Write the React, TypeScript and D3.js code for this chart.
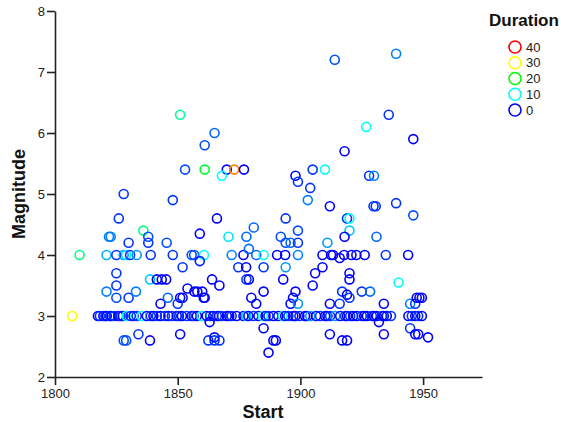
import React, { useEffect, useRef } from "react";
import * as d3 from "d3";

// scattered events (start year, magnitude, duration)
const start = [
  1828, 1826, 1836, 1822, 1822.7, 1838, 1830, 1838, 1845.5, 1848,
  1810, 1821, 1825, 1828, 1829, 1830.6, 1833.3, 1839, 1848, 1855.7, 1856.7, 1860.7, 1872, 1876.8, 1882, 1885, 1890.5, 1893.8, 1899, 1909, 1912.5, 1913.3, 1917.8, 1920.8, 1922.8, 1926.2, 1934.8, 1943.9,
  1825, 1825, 1821, 1825, 1830, 1833, 1838.7, 1841.5, 1843.5, 1845.3, 1843, 1846, 1807, 1828, 1829, 1834, 1838.7,
  1851, 1865, 1861, 1853, 1861, 1870, 1873, 1877, 1868, 1866, 1859, 1870.7, 1878, 1881, 1879, 1859, 1852, 1874.7, 1877.9, 1885, 1878, 1879, 1864, 1867, 1854, 1851, 1852, 1856.8, 1858, 1860, 1860.6, 1861, 1850, 1880, 1882, 1885, 1863, 1851, 1862.5, 1865, 1865, 1867, 1885, 1889, 1887,
  1926.8, 1918, 1905, 1910, 1898, 1899, 1904, 1903, 1912, 1894, 1919, 1920, 1920, 1899, 1892, 1918, 1894, 1896, 1899, 1911, 1916, 1894, 1909, 1893, 1906, 1920, 1920, 1905, 1898, 1897, 1896, 1899, 1917, 1919, 1920, 1925, 1928.4, 1912, 1916, 1890, 1912, 1917, 1919,
  1936, 1946, 1928, 1930, 1929.8, 1930.7, 1939, 1946, 1931, 1940, 1934, 1944.7, 1946.8, 1947.4, 1948.5, 1949.5, 1932, 1934, 1944.7, 1946.8, 1948, 1952, 1914, 1939,
];
const magnitude = [
  5.0, 4.6, 4.4, 4.3, 4.3, 4.3, 4.2, 4.2, 4.2, 4.9,
  4, 4, 4, 4, 4, 4, 4, 4, 4, 4, 4, 4, 4, 4, 4, 4, 4, 4, 4, 4, 4, 4, 4, 4, 4, 4, 4, 4,
  3.7, 3.5, 3.4, 3.3, 3.3, 3.4, 3.6, 3.6, 3.6, 3.6, 3.2, 3.3, 3.0, 2.6, 2.6, 2.7, 2.6,
  6.3, 6.0, 5.8, 5.4, 5.4, 5.4, 5.4, 5.4, 5.3, 4.6, 4.35, 4.3, 4.3, 4.45, 4.1, 3.9, 3.8, 3.8, 3.8, 3.8, 3.6, 3.6, 3.6, 3.5, 3.45, 3.3, 3.3, 3.4, 3.4, 3.4, 3.3, 3.3, 3.2, 3.3, 3.2, 3.4, 2.9, 2.7, 2.6, 2.6, 2.65, 2.6, 2.8, 2.6, 2.4,
  6.1, 5.7, 5.4, 5.4, 5.3, 5.2, 5.1, 4.9, 4.8, 4.6, 4.6, 4.6, 4.4, 4.4, 4.3, 4.3, 4.2, 4.2, 4.2, 4.2, 3.95, 3.8, 3.8, 3.6, 3.7, 3.7, 3.6, 3.5, 3.4, 3.3, 3.2, 3.2, 3.4, 3.35, 3.3, 3.4, 3.4, 3.2, 3.2, 2.6, 2.7, 2.6, 2.6,
  6.3, 5.9, 5.3, 5.3, 4.8, 4.8, 4.85, 4.65, 4.3, 3.55, 3.2, 3.2, 3.2, 3.3, 3.3, 3.3, 2.9, 2.7, 2.8, 2.7, 2.7, 2.65, 7.2, 7.3,
];
const duration = [
  2, 2, 15, 5, 5, 3, 2, 2, 3, 2,
  15, 7, 2, 6, 9, 2, 6, 2, 2, 3, 3, 10, 5, 0, 4, 10, 0, 0, 5, 0, 0, 0, 0, 0, 0, 0, 2, 0,
  2, 2, 5, 3, 2, 5, 8, 0, 0, 0, 0, 4, 30, 3, 3, 2, 0,
  14, 4, 3, 3, 18, 0, 35, 0, 10, 0, 0, 9, 4, 4, 4, 1, 2, 2, 0, 2, 2, 0, 0, 0, 0, 0, 0, 0, 0, 0, 0, 0, 2, 0, 0, 0, 0, 0, 2, 2, 0, 2, 0, 0, 0,
  10, 0, 2, 10, 0, 2, 2, 5, 0, 2, 2, 11, 8, 3, 3, 0, 3, 4, 2, 6, 0, 6, 0, 0, 0, 0, 0, 0, 0, 0, 0, 6, 2, 0, 2, 2, 4, 0, 2, 0, 0, 0, 0,
  2, 0, 2, 5, 2, 2, 2, 3, 4, 10, 0, 5, 2, 0, 0, 0, 0, 0, 2, 0, 0, 0, 3, 5,
];

// the crowded row of magnitude 3.0 events
const rowMagnitude = 3;
const rowStart = [
  1817.5, 1818.3, 1819.7, 1820.5, 1821.1, 1822.4, 1823, 1824.1, 1825.8, 1826.7,
  1827.6, 1829.2, 1830.9, 1832, 1833.3, 1835.3, 1837.4, 1839, 1840.1, 1841.5,
  1843, 1844.8, 1846.2, 1847.6, 1849.6, 1850.5, 1851.7, 1853.7, 1855.7, 1856.5,
  1857.8, 1859.8, 1861.8, 1863.2, 1864.5, 1865.9, 1866.8, 1868, 1870, 1871,
  1872, 1874, 1876.8, 1878, 1878.8, 1880.8, 1882.9, 1884.7, 1885.8, 1887,
  1889, 1891, 1892.8, 1893.8, 1895.1, 1897.1, 1898, 1899.6, 1901.9, 1902.8,
  1904, 1906.4, 1908, 1910.1, 1911, 1912.1, 1914.2, 1916.2, 1918.2, 1919,
  1920.3, 1921.5, 1923, 1925, 1926, 1927.1, 1929.1, 1930, 1931.1, 1933.2,
  1934, 1935.2, 1936.9, 1944, 1945.4, 1946.8, 1948, 1949.5,
];
const rowDuration = [
  0, 2, 0, 2, 0, 2, 0, 2, 0, 2,
  0, 10, 2, 0, 2, 10, 0, 2, 0, 2,
  0, 2, 0, 2, 0, 2, 0, 2, 0, 2,
  0, 10, 0, 2, 0, 2, 0, 2, 0, 0,
  2, 0, 0, 8, 0, 2, 0, 10, 0, 2,
  0, 0, 9, 0, 2, 0, 0, 2, 0, 0,
  6, 0, 2, 0, 0, 2, 6, 0, 2, 0,
  2, 0, 0, 2, 0, 0, 2, 0, 0, 2,
  0, 0, 2, 0, 2, 0, 2, 0,
];

const xTicks = [1800, 1850, 1900, 1950];
const yTicks = [2, 3, 4, 5, 6, 7, 8];
const legendValues = [40, 30, 20, 10, 0];
const colorStops = [0, 10, 20, 30, 40];
const colorRange = ["#0000ff", "#00ffff", "#00ff00", "#ffff00", "#ff0000"];

const font = "'Liberation Sans', Arial, Helvetica, sans-serif";

export default function App() {
  const xAxisRef = useRef<SVGGElement>(null);
  const yAxisRef = useRef<SVGGElement>(null);

  const x = d3.scaleLinear().domain([1800, 1974]).range([55, 482]);
  const y = d3.scaleLinear().domain([2, 8]).range([377, 11]);
  const color = d3.scaleLinear<string>().domain(colorStops).range(colorRange).interpolate(d3.interpolateRgb);
  const legendY = d3.scaleLinear().domain([0, 4]).range([47, 110]);

  const rowPoints = rowStart.map((s, i) => ({ s, m: rowMagnitude, d: rowDuration[i] }));
  const points = start.map((s, i) => ({ s, m: magnitude[i], d: duration[i] }));
  const all = [...rowPoints, ...points];

  useEffect(() => {
    const xa = d3
      .select(xAxisRef.current)
      .attr("transform", `translate(0,${y(2)})`)
      .call(d3.axisBottom(x).tickValues(xTicks).tickFormat(d3.format("d")).tickSize(8).tickPadding(4).tickSizeOuter(0));
    const ya = d3
      .select(yAxisRef.current)
      .attr("transform", `translate(${x(1800)},0)`)
      .call(d3.axisLeft(y).tickValues(yTicks).tickFormat(d3.format("d")).tickSize(8).tickPadding(2).tickSizeOuter(0));
    [xa, ya].forEach((a) => {
      a.selectAll("path,line").attr("stroke", "#222").attr("stroke-width", 1.6);
      a.selectAll("text").attr("font-family", font).attr("font-size", 13).attr("fill", "#222");
    });
  });

  return (
    <svg width={561} height={422} style={{ position: "absolute", left: 0, top: 0, background: "#fff" }}>
      <g>
        {all.map((p, i) => (
          <circle key={i} cx={x(p.s)} cy={y(p.m)} r={4.5} fill="none" stroke={color(p.d)} strokeWidth={1.6} />
        ))}
      </g>
      <g ref={xAxisRef} />
      <g ref={yAxisRef} />
      <text x={263} y={418} textAnchor="middle" fontFamily={font} fontWeight="bold" fontSize={18} fill="#111">
        Start
      </text>
      <text transform="translate(25,194) rotate(-90)" textAnchor="middle" fontFamily={font} fontWeight="bold" fontSize={18} fill="#111">
        Magnitude
      </text>
      <text x={489} y={26} fontFamily={font} fontWeight="bold" fontSize={17} fill="#111">
        Duration
      </text>
      {legendValues.map((v, i) => (
        <g key={v}>
          <circle cx={515} cy={legendY(i)} r={6} fill="none" stroke={color(v)} strokeWidth={1.6} />
          <text x={526} y={legendY(i)} dy="0.36em" fontFamily={font} fontSize={13} fill="#222">
            {v}
          </text>
        </g>
      ))}
    </svg>
  );
}
